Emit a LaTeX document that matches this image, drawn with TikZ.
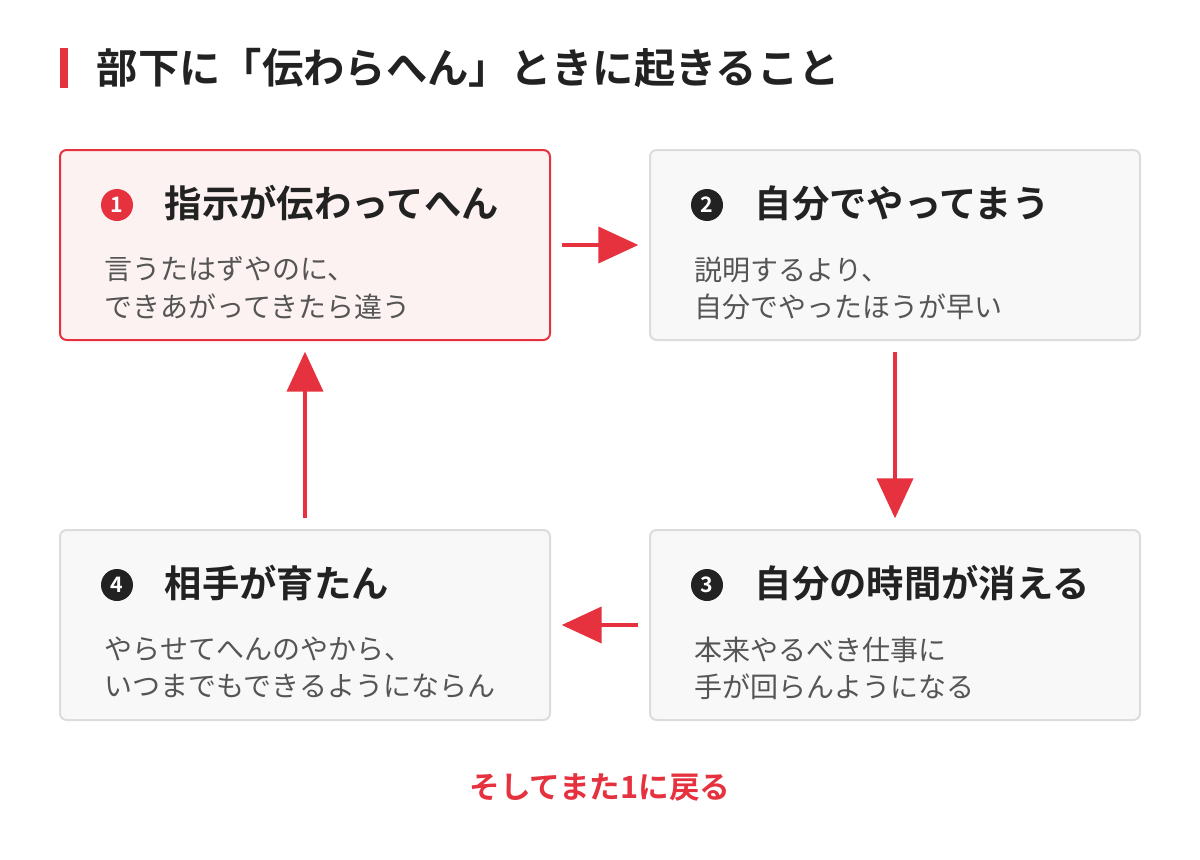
\documentclass[tikz,border=0pt]{standalone}
\usepackage{fontspec}
\setmainfont{Noto Sans CJK JP}[BoldFont={Noto Sans CJK JP Bold}]
\usetikzlibrary{arrows.meta,positioning}
\definecolor{accent}{HTML}{E5323E}
\definecolor{pinkbg}{HTML}{FDF2F2}
\definecolor{greybg}{HTML}{F8F8F8}
\definecolor{greyline}{HTML}{DCDCDC}
\definecolor{ink}{HTML}{222222}
\definecolor{subink}{HTML}{555555}
\tikzset{
  box/.style={draw=greyline, fill=greybg, line width=1.5pt, rounded corners=5pt,
    minimum width=367.5pt, minimum height=142.5pt, inner sep=0pt},
  hot/.style={box, draw=accent, fill=pinkbg},
  num/.style={circle, fill=#1, text=white, minimum size=24pt, inner sep=0pt,
    font=\fontsize{16}{16}\selectfont\bfseries},
  head/.style={anchor=west, text=ink, font=\fontsize{28}{28}\selectfont\bfseries},
  body/.style={anchor=north west, text=subink, align=left,
    font=\fontsize{21}{28}\selectfont},
  flow/.style={draw=accent, line width=3pt, shorten <=8pt, shorten >=8pt,
    -{Triangle[length=30pt,width=27pt]}}
}
\begin{document}
\begin{tikzpicture}[x=0.75pt,y=-0.75pt]
\useasboundingbox[fill=white] (0,0) rectangle (1200,860);
% title
\fill[accent] (60,48) rectangle (68,88);
\node[anchor=west, text=ink, font=\fontsize{31}{31}\selectfont\bfseries] (title) at (92,68) {部下に「伝わらへん」ときに起きること};
% boxes
\node[hot] (b1) at (305,245) {};
\node[box] (b2) at (895,245) {};
\node[box] (b3) at (895,625) {};
\node[box] (b4) at (305,625) {};
% step 1
\node[num=accent] (n1) at (117,205) {1};
\node[head] (h1) at (160,203) {指示が伝わってへん};
\node[body] (t1) at (100,252) {言うたはずやのに、\\できあがってきたら違う};
% step 2
\node[num=ink] (n2) at (707,205) {2};
\node[head] (h2) at (750,203) {自分でやってまう};
\node[body] (t2) at (690,252) {説明するより、\\自分でやったほうが早い};
% step 3
\node[num=ink] (n3) at (707,585) {3};
\node[head] (h3) at (750,583) {自分の時間が消える};
\node[body] (t3) at (690,632) {本来やるべき仕事に\\手が回らんようになる};
% step 4
\node[num=ink] (n4) at (117,585) {4};
\node[head] (h4) at (160,583) {相手が育たん};
\node[body] (t4) at (100,632) {やらせてへんのやから、\\いつまでもできるようにならん};
% cycle
\draw[flow] (b1) -- (b2);
\draw[flow] (b2) -- (b3);
\draw[flow] (b3) -- (b4);
\draw[flow] (b4) -- (b1);
\node[text=accent, font=\fontsize{23}{23}\selectfont\bfseries] (back) at (600,787) {そしてまた1に戻る};
\end{tikzpicture}
\end{document}
